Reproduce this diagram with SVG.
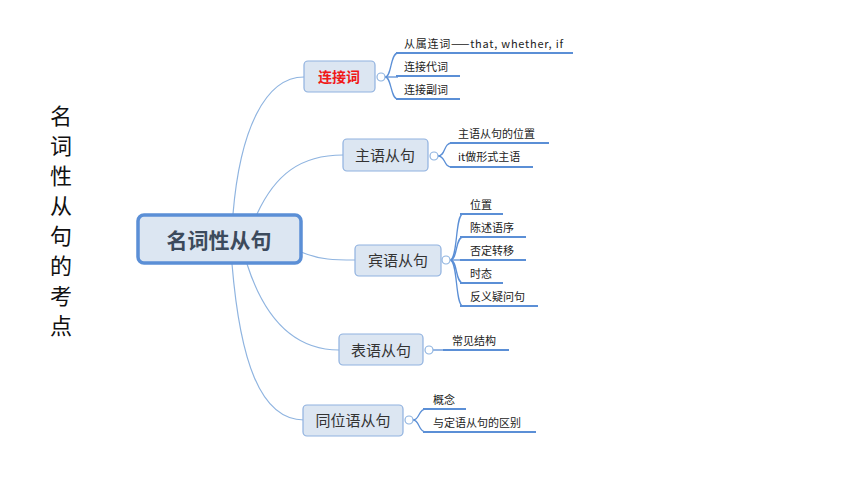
<svg xmlns="http://www.w3.org/2000/svg" width="860" height="484" viewBox="0 0 860 484">
<style>
text{font-family:"Noto Sans CJK SC","Liberation Sans",sans-serif;}
.node rect{fill:#dce6f2;stroke:#8fb1df;stroke-width:1.2;}
.main rect{fill:#dce6f2;stroke:#5b8fd6;stroke-width:3.5;}
.lbl{font-size:15px;fill:#333;text-anchor:middle;}
.sub{font-size:11px;fill:#222;}
.conn path{fill:none;stroke:#8fb4e0;stroke-width:1.2;}
.ul{fill:none;stroke:#5b8fd6;stroke-width:2.2;}
.br{fill:none;stroke:#5b8fd6;stroke-width:1.3;}
.knob{fill:#fff;stroke:#8fb4e0;stroke-width:1.2;}
.side{font-size:22px;fill:#111;text-anchor:middle;}
</style>
<rect width="860" height="484" fill="#fff"/>
<g id="title">
<text class="side" x="61" y="124">名</text>
<text class="side" x="61" y="154">词</text>
<text class="side" x="61" y="184">性</text>
<text class="side" x="61" y="214">从</text>
<text class="side" x="61" y="244">句</text>
<text class="side" x="61" y="274">的</text>
<text class="side" x="61" y="304">考</text>
<text class="side" x="61" y="334">点</text>
</g>
<g id="connectors" class="conn">
<path d="M233,214 C240,130 265,77 304,77"/>
<path d="M257,214 C275,175 300,155 343,155"/>
<path d="M301,252 C320,260 335,260 355,260"/>
<path d="M247,264 C265,320 295,350 339,350"/>
<path d="M232,264 C240,360 260,420 304,420"/>
</g>
<g id="branches">
<path class="br" d="M385,77 C392,77 390,53 398,53"/>
<path class="br" d="M385,77 L398,77"/>
<path class="br" d="M385,77 C392,77 390,99 398,99"/>
<path class="ul" d="M396,53 H573 M396,76 H460 M396,99 H460"/>
<path class="br" d="M438,156 C446,156 443,143 452,143"/>
<path class="br" d="M438,156 C446,156 443,167 452,167"/>
<path class="ul" d="M450,143 H549 M450,167 H533"/>
<path class="br" d="M450,260 C458,260 455,214 463,214"/>
<path class="br" d="M450,260 C458,260 455,237 463,237"/>
<path class="br" d="M450,260 L463,260"/>
<path class="br" d="M450,260 C458,260 455,283 463,283"/>
<path class="br" d="M450,260 C458,260 455,306 463,306"/>
<path class="ul" d="M460,214 H503 M460,237 H526 M460,260 H526 M460,283 H503 M460,306 H538"/>
<path class="br" d="M433,350 H445"/>
<path class="ul" d="M443,350 H509"/>
<path class="br" d="M413,420 C420,420 418,409 426,409"/>
<path class="br" d="M413,420 C420,420 418,432 426,432"/>
<path class="ul" d="M423,409 H466 M423,432 H536"/>
</g>
<g id="n-main" class="main">
<rect x="138" y="215" width="163" height="48" rx="6"/>
<text x="219" y="248" style="font-size:21px;font-weight:bold;fill:#3c4a5c;text-anchor:middle">名词性从句</text>
</g>
<g id="n-lianjieci" class="node">
<rect x="304" y="61" width="71" height="31" rx="4"/>
<text class="lbl" x="339" y="82" style="fill:#f01818;font-weight:bold;font-size:14px">连接词</text>
<circle class="knob" cx="381" cy="77" r="4"/>
</g>
<g id="n-zhuyu" class="node">
<rect x="343" y="139" width="85" height="32" rx="4"/>
<text class="lbl" x="385" y="161">主语从句</text>
<circle class="knob" cx="434" cy="156" r="4"/>
</g>
<g id="n-binyu" class="node">
<rect x="355" y="245" width="86" height="31" rx="4"/>
<text class="lbl" x="398" y="266">宾语从句</text>
<circle class="knob" cx="446" cy="260" r="4"/>
</g>
<g id="n-biaoyu" class="node">
<rect x="339" y="334" width="84" height="31" rx="4"/>
<text class="lbl" x="381" y="356">表语从句</text>
<circle class="knob" cx="429" cy="350" r="4"/>
</g>
<g id="n-tongwei" class="node">
<rect x="303" y="405" width="100" height="31" rx="4"/>
<text class="lbl" x="353" y="426">同位语从句</text>
<circle class="knob" cx="409" cy="420" r="4"/>
</g>
<g id="leaves">
<text class="sub" x="404" y="48" textLength="159" lengthAdjust="spacing">从属连词——that, whether, if</text>
<text class="sub" x="404" y="71">连接代词</text>
<text class="sub" x="404" y="94">连接副词</text>
<text class="sub" x="458" y="138">主语从句的位置</text>
<text class="sub" x="458" y="161">it做形式主语</text>
<text class="sub" x="470" y="209">位置</text>
<text class="sub" x="470" y="232">陈述语序</text>
<text class="sub" x="470" y="255">否定转移</text>
<text class="sub" x="470" y="278">时态</text>
<text class="sub" x="470" y="301">反义疑问句</text>
<text class="sub" x="452" y="345">常见结构</text>
<text class="sub" x="433" y="404">概念</text>
<text class="sub" x="433" y="427">与定语从句的区别</text>
</g>
</svg>
